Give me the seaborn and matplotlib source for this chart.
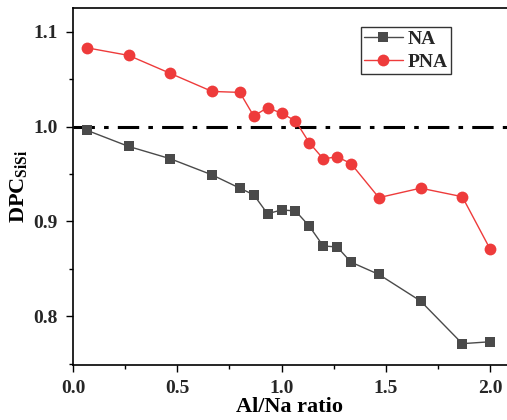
import matplotlib
matplotlib.use("Agg")
import matplotlib.pyplot as plt
import seaborn as sns
import pandas as pd
from matplotlib.ticker import MultipleLocator

ratio = [0.067, 0.267, 0.467, 0.667, 0.8, 0.867, 0.933, 1.0, 1.067, 1.133,
         1.2, 1.267, 1.333, 1.467, 1.667, 1.867, 2.0]
na = [0.996, 0.979, 0.966, 0.949, 0.935, 0.928, 0.908, 0.912, 0.911, 0.895,
      0.874, 0.873, 0.857, 0.844, 0.816, 0.771, 0.773]
pna = [1.083, 1.075, 1.056, 1.037, 1.036, 1.011, 1.020, 1.014, 1.006, 0.983,
       0.966, 0.968, 0.961, 0.925, 0.935, 0.926, 0.871]
reference = 1.0

sns.set_theme(style="ticks")
plt.rcParams['font.family'] = ['Liberation Serif', 'DejaVu Serif']
plt.rcParams['font.weight'] = 'bold'
plt.rcParams['mathtext.fontset'] = 'custom'
plt.rcParams['mathtext.rm'] = 'Liberation Serif:bold'
plt.rcParams['mathtext.bf'] = 'Liberation Serif:bold'
plt.rcParams['mathtext.it'] = 'Liberation Serif:bold'

df_na = pd.DataFrame({"x": ratio, "y": na})
df_pna = pd.DataFrame({"x": ratio, "y": pna})

fig = plt.figure(figsize=(5.07, 4.20), dpi=100)
ax = fig.add_axes([73/507, 1 - 365/420, 1.0 - 73/507, (365 - 8)/420])

ax.axhline(reference, color="black", lw=2.2, ls=(0, (7, 3, 1.5, 3)), zorder=1)
sns.lineplot(data=df_na, x="x", y="y", ax=ax, color="#4a4a4a", lw=1.0,
             marker="s", markersize=7.5, markeredgewidth=0, label="NA", zorder=3)
sns.lineplot(data=df_pna, x="x", y="y", ax=ax, color="#ee3b3b", lw=1.0,
             marker="o", markersize=8.5, markeredgewidth=0, label="PNA", zorder=3)

ax.set_xlim(0, 434/208.5)
ax.set_ylim(0.7485, 1.125)
ax.xaxis.set_major_locator(MultipleLocator(0.5))
ax.xaxis.set_minor_locator(MultipleLocator(0.25))
ax.yaxis.set_major_locator(MultipleLocator(0.1))
ax.yaxis.set_minor_locator(MultipleLocator(0.05))
ax.tick_params(which="major", direction="out", length=5, width=1, labelsize=14, pad=6, color="black")
ax.tick_params(which="minor", direction="out", length=3, width=1, color="black")
for lbl in ax.get_xticklabels() + ax.get_yticklabels():
    lbl.set_fontweight("bold")
for s in ["left", "bottom", "top"]:
    ax.spines[s].set_color("black")
    ax.spines[s].set_linewidth(1.2)
ax.spines["right"].set_visible(False)

ax.set_xlabel("Al/Na ratio", fontsize=16, fontweight="bold", labelpad=0, color="black")
ax.set_ylabel(r"DPC$_\mathrm{SiSi}$", fontsize=16, fontweight="bold", labelpad=3, color="black")

leg = ax.legend(loc="upper left", bbox_to_anchor=(361/507, 1 - 27/420),
                bbox_transform=fig.transFigure, frameon=True, fancybox=False,
                edgecolor="black", fontsize=14, handlelength=2.0,
                borderpad=0.15, borderaxespad=0, labelspacing=0.3,
                handletextpad=0.25)
leg.get_frame().set_linewidth(1.0)
for t in leg.get_texts():
    t.set_fontweight("bold")

fig.savefig("out.png", dpi=100)
